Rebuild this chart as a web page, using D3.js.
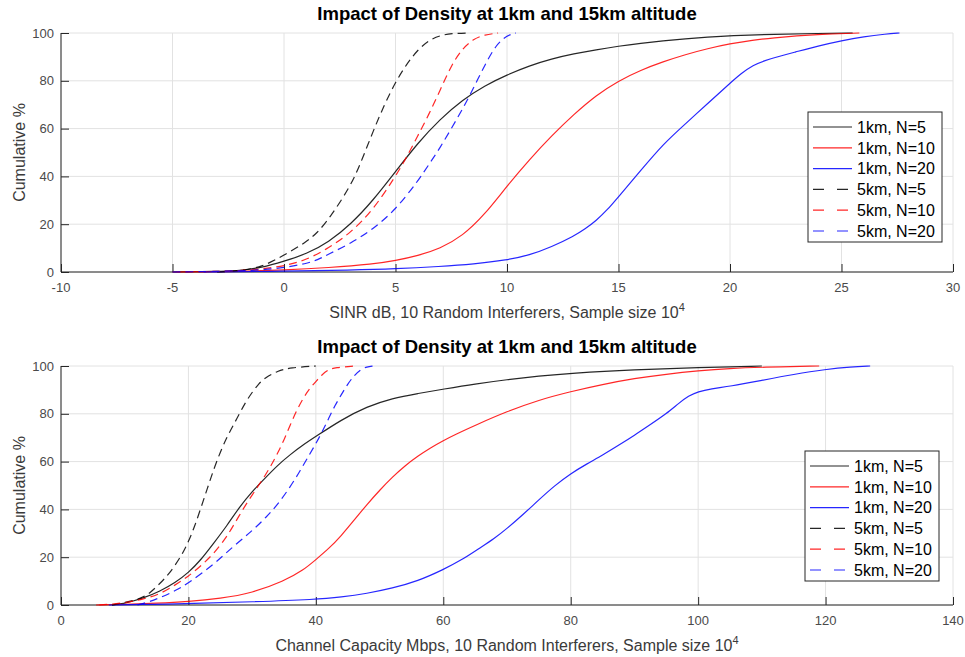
<!DOCTYPE html>
<html>
<head>
<meta charset="utf-8">
<script src="https://cdn.jsdelivr.net/npm/d3@7"></script>
<style>
  body { margin: 0; background: #fff; }
  text { font-family: "Liberation Sans", Arial, Helvetica, sans-serif; }
</style>
</head>
<body>
<div id="chart"></div>
<script>
// ---- data: [x, cumulative %] ----
var sinr1kmN5 = [[-5,0],[-3,0.2],[-2,0.6],[-1,1.8],[0,4.5],[1,7.5],[2,12.5],[3,20],[4,30],[5,42],[6,54],[7,64],[8,72],[9,78],[10,82.5],[11,86.3],[12,89.2],[13,91.3],[14,93],[15,94.5],[16,95.7],[17,96.7],[18,97.6],[19,98.3],[20,98.9],[22,99.5],[24,99.8],[25.5,100]];
var sinr1kmN10 = [[-4.8,0],[-2,0.2],[0,0.8],[2,1.8],[4,3.3],[5,4.8],[6,6.8],[7,9.8],[8,15],[9,24],[10,36],[11,47],[12,57],[13,66],[14,74],[15,80],[16,84.5],[17,88],[18,91],[19,93.5],[20,95.5],[21,97],[22,98],[23,98.8],[24,99.4],[25.8,100]];
var sinr1kmN20 = [[-3.6,0],[0,0.3],[3,0.8],[5,1.3],[7,2.3],[8.5,3.3],[10,5],[11,7],[12,10.5],[13,15],[13.5,18],[14,21.5],[14.5,26],[15,31.5],[16,42.5],[17,53.5],[18,62],[19,70.5],[20,79],[20.5,83],[21,86.5],[21.7,89],[23,92.2],[24,94.7],[25,96.8],[26,98.5],[27,99.6],[27.6,100]];
var sinr5kmN5 = [[-3,0],[-2,0.5],[-1,2],[0,7],[1,12.5],[1.5,16.5],[2,22],[3,36],[3.5,47],[4,59],[4.5,70],[5,79.5],[5.5,87],[6,93],[6.5,97],[7,99],[7.5,99.8],[8.3,100]];
var sinr5kmN10 = [[-5,0],[-3,0.2],[-2,0.6],[-1,1.2],[0,2.5],[1,5],[2,10],[3,16.5],[4,26],[5,40],[5.5,48],[6,57],[6.5,66],[7,76],[7.5,86.5],[8,93.5],[8.5,97.5],[9,99.3],[9.6,100]];
var sinr5kmN20 = [[-5,0],[-3,0.2],[-1,0.8],[0,1.8],[1,3.5],[1.5,5],[2,7.5],[3,12],[4,18],[5,26],[6,38],[6.5,45],[7,52],[7.5,60],[8,68],[8.5,77],[9,86.5],[9.5,95],[10,99],[10.4,100]];

var cap1kmN5 = [[8,0],[10,0.7],[11,1.4],[13,3],[15.5,5.7],[18,9.5],[20,13.5],[22,19],[24,26],[26,33],[28,41],[30,47.5],[32,53],[34,58.5],[36,63],[38,67],[40,70.5],[44,77.5],[48,83],[52,86.5],[56,88.5],[60,90.3],[65,92.5],[70,94.3],[75,95.8],[80,97],[90,98.5],[100,99.3],[110,100]];
var cap1kmN10 = [[5.5,0],[10,0.3],[15,0.7],[20,1.4],[25,2.7],[30,5],[35,10],[38,14.5],[40,19],[42,23.5],[44,29],[46,35.5],[48,42],[50,48],[52,53.5],[54,58.3],[56,62.3],[58,65.8],[60,68.8],[62,71.5],[65,75.2],[70,81],[75,85.8],[80,89.3],[85,92.3],[90,94.8],[95,96.6],[100,98],[105,99],[110,99.5],[119,100]];
var cap1kmN20 = [[7.5,0],[15,0.3],[20,0.6],[30,1.3],[40,2.3],[44,3.3],[48,4.8],[52,7],[56,10],[60,14.8],[63,19],[65.7,23.8],[68,27.8],[70,32],[72.5,37.8],[75,44],[77.5,50],[80,55],[82.5,59],[85,62.7],[87.5,66.8],[90,71],[92.5,75.5],[95,80],[97,84.5],[98.5,87.5],[100,89.3],[102,90.5],[105,91.5],[110,94],[115,96.5],[120,98.6],[124,99.7],[127,100]];
var cap5kmN5 = [[8,0],[10,1],[12.4,2.5],[14,5],[15.5,9],[17,13],[19,21],[20,26.5],[21,33],[22,41],[23,49],[24,57],[25,64],[26,70],[27,75],[28,80],[29,85],[30,89],[31,92.5],[32,95],[34,98],[36,99.3],[40,100]];
var cap5kmN10 = [[6,0],[10,0.8],[13,2.5],[15.5,4.5],[18,8.5],[20,12],[22,16.5],[24,21.5],[26,28.5],[27,33],[28,37.5],[29,42],[30,46],[31,50],[32,54],[33,58.5],[34,63.5],[35,69],[36,75.5],[37,81.5],[38,86.5],[39,90.5],[40,93.5],[41,96.5],[42,98.5],[43,99.3],[46,100]];
var cap5kmN20 = [[12,0],[14,1.5],[15.5,3],[18,6],[20,9.2],[24,17],[27,24.5],[30,31],[32.3,37],[34,42],[36,49.5],[37.5,56],[39,63],[40,67.5],[41,72.5],[42,78],[43,83.5],[44,88],[45,92.5],[46,96],[47,98.5],[48,99.7],[49,100]];

var seriesNames = ["1km, N=5", "1km, N=10", "1km, N=20", "5km, N=5", "5km, N=10", "5km, N=20"];
var seriesColors = ["#000000", "#ff0000", "#0000ff", "#000000", "#ff0000", "#0000ff"];
var seriesDashed = [false, false, false, true, true, true];

var sinrTicks = [-10, -5, 0, 5, 10, 15, 20, 25, 30];
var capTicks = [0, 20, 40, 60, 80, 100, 120, 140];
var yTicks = [0, 20, 40, 60, 80, 100];

var titleText = "Impact of Density at 1km and 15km altitude";

var svg = d3.select("#chart")
  .append("svg")
    .attr("width", 965)
    .attr("height", 657);

function drawPanel(cfg) {
  var x = d3.scaleLinear().domain(cfg.xDomain).range([61, 953]);
  var y = d3.scaleLinear().domain([0, 100]).range([cfg.bottom, cfg.top]);
  var g = svg.append("g");

  // grid
  g.selectAll(".vgrid").data(cfg.xTicks).enter().append("line")
    .attr("x1", function(d) { return x(d); }).attr("x2", function(d) { return x(d); })
    .attr("y1", y(0)).attr("y2", y(100))
    .attr("stroke", "#e2e2e2").attr("stroke-width", 1);
  g.selectAll(".hgrid").data(yTicks).enter().append("line")
    .attr("x1", x.range()[0]).attr("x2", x.range()[1])
    .attr("y1", function(d) { return y(d); }).attr("y2", function(d) { return y(d); })
    .attr("stroke", "#e2e2e2").attr("stroke-width", 1);

  // axes, ticks pointing inward like matlab
  var xAxis = d3.axisTop(x).tickValues(cfg.xTicks).tickSize(8).tickFormat("");
  var yAxis = d3.axisRight(y).tickValues(yTicks).tickSize(8).tickFormat("");
  g.append("g").attr("transform", "translate(0," + y(0) + ")").call(xAxis);
  g.append("g").attr("transform", "translate(" + x.range()[0] + ",0)").call(yAxis);
  g.selectAll(".domain").attr("d", null);
  g.selectAll(".tick line").attr("stroke", "#262626");
  g.append("path")
    .attr("d", "M" + x.range()[0] + "," + y(100) + "V" + y(0) + "H" + x.range()[1])
    .attr("fill", "none").attr("stroke", "#262626").attr("stroke-width", 1);

  // tick labels
  g.selectAll(".xl").data(cfg.xTicks).enter().append("text")
    .attr("x", function(d) { return x(d); })
    .attr("y", y(0) + 20)
    .attr("text-anchor", "middle")
    .attr("font-size", 13).attr("fill", "#4a4a4a")
    .text(function(d) { return d; });
  g.selectAll(".yl").data(yTicks).enter().append("text")
    .attr("x", x.range()[0] - 7)
    .attr("y", function(d) { return y(d); })
    .attr("dy", "0.36em")
    .attr("text-anchor", "end")
    .attr("font-size", 13).attr("fill", "#4a4a4a")
    .text(function(d) { return d; });

  // curves
  var line = d3.line()
    .x(function(d) { return x(d[0]); })
    .y(function(d) { return y(d[1]); })
    .curve(d3.curveBasis);
  cfg.series.forEach(function(s, i) {
    g.append("path")
      .datum(s)
      .attr("d", line)
      .attr("fill", "none")
      .attr("stroke", seriesColors[i])
      .attr("stroke-opacity", 0.85)
      .attr("stroke-width", 1.2)
      .attr("stroke-dasharray", seriesDashed[i] ? "8,5" : null);
  });

  // title + labels
  g.append("text")
    .attr("x", 507).attr("y", cfg.top - 13)
    .attr("text-anchor", "middle")
    .attr("font-size", 18.5).attr("font-weight", "bold").attr("fill", "#000")
    .text(titleText);
  var xl = g.append("text")
    .attr("x", 507).attr("y", y(0) + 46)
    .attr("text-anchor", "middle")
    .attr("font-size", 16).attr("fill", "#3a3a3a")
    .text(cfg.xLabel);
  xl.append("tspan").attr("dy", -7).attr("font-size", 11).text("4");
  g.append("text")
    .attr("transform", "translate(25," + (cfg.top + cfg.bottom) / 2 + ") rotate(-90)")
    .attr("text-anchor", "middle")
    .attr("font-size", 16).attr("fill", "#3a3a3a")
    .text("Cumulative %");

  // legend
  var lg = g.append("g").attr("transform", "translate(" + cfg.legend[0] + "," + cfg.legend[1] + ")");
  lg.append("rect")
    .attr("width", 134).attr("height", 130)
    .attr("fill", "#fff").attr("stroke", "#262626").attr("stroke-width", 1);
  seriesNames.forEach(function(name, i) {
    var ry = 15 + i * 20.8;
    lg.append("line")
      .attr("x1", 5).attr("x2", seriesDashed[i] ? 40 : 44)
      .attr("y1", ry).attr("y2", ry)
      .attr("stroke", seriesColors[i]).attr("stroke-opacity", 0.85)
      .attr("stroke-width", 1.2)
      .attr("stroke-dasharray", seriesDashed[i] ? "11,13" : null);
    lg.append("text")
      .attr("x", 49).attr("y", ry).attr("dy", "0.36em")
      .attr("font-size", 16).attr("fill", "#000")
      .text(name);
  });
}

drawPanel({
  xDomain: [-10, 30], xTicks: sinrTicks, top: 33, bottom: 272,
  xLabel: "SINR dB, 10 Random Interferers, Sample size 10",
  legend: [808, 112],
  series: [sinr1kmN5, sinr1kmN10, sinr1kmN20, sinr5kmN5, sinr5kmN10, sinr5kmN20]
});
drawPanel({
  xDomain: [0, 140], xTicks: capTicks, top: 366, bottom: 605,
  xLabel: "Channel Capacity Mbps, 10 Random Interferers, Sample size 10",
  legend: [805, 451],
  series: [cap1kmN5, cap1kmN10, cap1kmN20, cap5kmN5, cap5kmN10, cap5kmN20]
});
</script>
</body>
</html>
